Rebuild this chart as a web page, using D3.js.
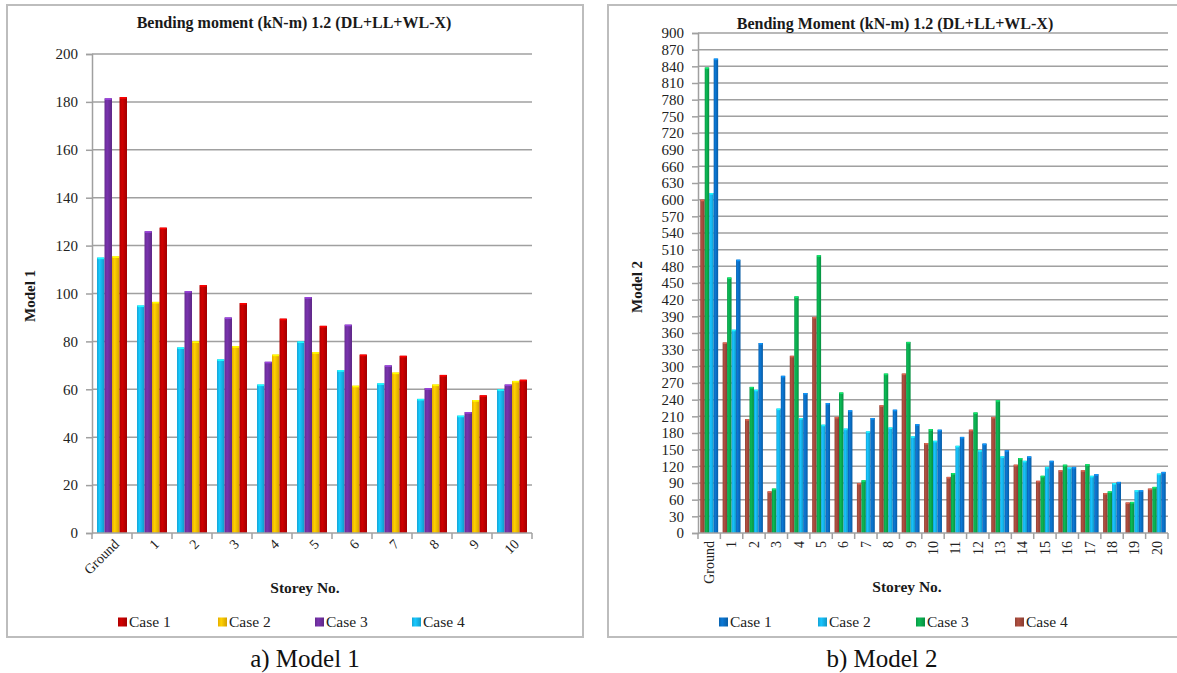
<!DOCTYPE html>
<html><head><meta charset="utf-8">
<script src="https://cdn.jsdelivr.net/npm/d3@7"></script>
<style>html,body{margin:0;padding:0;background:#fff;} svg{display:block;} svg text{font-family:"Liberation Serif","Times New Roman",serif;}</style>
</head><body>
<svg id="chart" width="1177" height="673" font-family="Liberation Serif, Times New Roman, serif"></svg>
<script>
// ---------- DATA ----------
const storeys1 = ["Ground","1","2","3","4","5","6","7","8","9","10"];
const m1Case1 = [182, 127.5, 103.5, 96, 89.5, 86.5, 74.5, 74, 66, 57.5, 64];
const m1Case2 = [115.5, 96.5, 80, 78, 74.5, 75.5, 61.5, 67, 62, 55.5, 63.5];
const m1Case3 = [181.5, 126, 101, 90, 71.5, 98.5, 87, 70, 60.5, 50.5, 62];
const m1Case4 = [115, 95, 77.5, 72.5, 62, 80, 68, 62.5, 56, 49, 60];
const m1Ticks = [0,20,40,60,80,100,120,140,160,180,200];

const storeys2 = ["Ground","1","2","3","4","5","6","7","8","9","10","11","12","13","14","15","16","17","18","19","20"];
const m2Case1 = [854, 492, 342, 283, 252, 234, 221, 207, 222, 196, 186, 173, 161, 149, 138, 130, 119, 106, 92, 77, 110];
const m2Case2 = [612, 366, 258, 224, 207, 195, 188, 183, 190, 174, 166, 157, 149, 138, 130, 119, 118, 103, 90, 77, 107];
const m2Case3 = [838, 460, 263, 80, 426, 500, 253, 95, 287, 344, 187, 108, 217, 239, 135, 103, 123, 124, 75, 56, 83];
const m2Case4 = [600, 343, 205, 75, 319, 389, 209, 90, 230, 287, 162, 101, 186, 209, 123, 94, 113, 113, 72, 55, 80];
const m2Ticks = d3.range(0, 901, 30);

const caseNames = ["Case 1","Case 2","Case 3","Case 4"];

// ---------- DRAW ----------
const FONT = "Liberation Serif, Times New Roman, serif";
const svg = d3.select("#chart");
const defs = svg.append("defs");
function grad(id, base){
  const c = d3.color(base);
  const g = defs.append("linearGradient").attr("id", id).attr("x1","0%").attr("x2","100%");
  g.append("stop").attr("offset","0%").attr("stop-color", c.darker(0.3));
  g.append("stop").attr("offset","35%").attr("stop-color", c.brighter(0.25));
  g.append("stop").attr("offset","100%").attr("stop-color", c.darker(0.5));
  return "url(#"+id+")";
}

function panel(o){
  const g = svg.append("g").attr("font-family", FONT);
  g.append("rect").attr("x", o.box[0]).attr("y", o.box[1]).attr("width", o.box[2]).attr("height", o.box[3])
    .attr("fill","#fff").attr("stroke","#bdbdbd").attr("stroke-width",2);
  const x = d3.scaleBand().domain(o.cats).range([o.left, o.right]).paddingInner(o.pad).paddingOuter(o.pad/2);
  const y = d3.scaleLinear().domain([0, o.ymax]).range([o.bottom, o.top]);
  // grid
  g.append("g").selectAll("line").data(o.ticks.filter(t=>t>0)).join("line")
    .attr("x1", o.left).attr("x2", o.right).attr("y1", d=>y(d)).attr("y2", d=>y(d))
    .attr("stroke","#a0a0a0").attr("stroke-width",1.5);
  // y axis
  const ya = g.append("g").attr("transform","translate("+o.left+",0)")
    .call(d3.axisLeft(y).tickValues(o.ticks).tickSize(6).tickPadding(8).tickFormat(d3.format("d")));
  ya.attr("font-family", FONT);
  ya.select(".domain").attr("stroke","#a0a0a0").attr("stroke-width",1.5);
  ya.selectAll(".tick line").attr("stroke","#a0a0a0").attr("stroke-width",1.5);
  ya.selectAll("text").attr("font-size", o.tickFont).attr("fill","#222").attr("font-family", FONT);
  // bars
  const inner = d3.scaleBand().domain(o.order).range([0, x.bandwidth()]);
  o.order.forEach((k)=>{
    const vals = o.series[k];
    g.append("g").selectAll("rect").data(vals).join("rect")
      .attr("x", (d,i)=>x(o.cats[i]) + inner(k))
      .attr("width", inner.bandwidth())
      .attr("y", d=>y(d)).attr("height", d=>y(0)-y(d))
      .attr("fill", o.fills[k]);
    g.append("g").selectAll("rect").data(vals).join("rect")
      .attr("x", (d,i)=>x(o.cats[i]) + inner(k)+0.5)
      .attr("width", Math.max(inner.bandwidth()-1,1))
      .attr("y", d=>y(d)).attr("height", 1.6)
      .attr("fill", d3.color(o.colors[k]).brighter(0.9));
  });
  // x axis line + boundary ticks
  g.append("line").attr("x1", o.left).attr("x2", o.right).attr("y1", y(0)).attr("y2", y(0))
    .attr("stroke","#a0a0a0").attr("stroke-width",1.5);
  const bounds = o.cats.map(c=>x(c) - x.step()*o.pad/2).concat([o.right]);
  g.append("g").selectAll("line").data(bounds).join("line")
    .attr("x1", d=>d).attr("x2", d=>d).attr("y1", y(0)).attr("y2", y(0)+6)
    .attr("stroke","#a0a0a0").attr("stroke-width",1.5);
  // x labels
  g.append("g").selectAll("text").data(o.cats).join("text")
    .attr("transform", d=>"translate("+(x(d)+x.bandwidth()/2+o.lblDx)+","+(y(0)+o.lblDy)+") rotate("+o.rot+")")
    .attr("text-anchor","end").attr("dy", o.rot===-90 ? "0.35em" : "0.3em")
    .attr("font-family", FONT).attr("font-size", o.xFont).attr("fill","#222").text(d=>d);
  // titles
  g.append("text").attr("x", o.titleX).attr("y", o.titleY).attr("text-anchor","middle")
    .attr("font-family", FONT).attr("font-weight","bold").attr("font-size",16).attr("fill","#1a1a1a").text(o.title);
  g.append("text").attr("transform","translate("+o.yTitleX+","+o.yTitleY+") rotate(-90)")
    .attr("text-anchor","middle").attr("font-family", FONT).attr("font-weight","bold").attr("font-size",15).attr("fill","#1a1a1a").text(o.yTitle);
  g.append("text").attr("x", o.xTitleX).attr("y", o.xTitleY).attr("text-anchor","middle")
    .attr("font-family", FONT).attr("font-weight","bold").attr("font-size",15.5).attr("fill","#1a1a1a").text("Storey No.");
  // legend
  caseNames.forEach((nm,i)=>{
    const lx = o.legX[i];
    g.append("rect").attr("x", lx).attr("y", o.legY-4.5).attr("width",9).attr("height",9).attr("fill", o.fills[nm]);
    g.append("text").attr("x", lx+11).attr("y", o.legY).attr("dy","0.35em")
      .attr("font-family", FONT).attr("font-size",15.5).attr("fill","#222").text(nm);
  });
  // caption
  svg.append("text").attr("x", o.capX).attr("y", 667).attr("text-anchor","middle")
    .attr("font-family", FONT).attr("font-size",25).attr("fill","#111").text(o.caption);
}

const col1 = {"Case 1":"#c00000","Case 2":"#ffc000","Case 3":"#7030a0","Case 4":"#16b8ee"};
const col2 = {"Case 1":"#0a6ec4","Case 2":"#16b4ec","Case 3":"#0aaa4e","Case 4":"#a2493b"};
const fill1 = {}, fill2 = {};
caseNames.forEach((k,i)=>{ fill1[k]=grad("g1"+i, col1[k]); fill2[k]=grad("g2"+i, col2[k]); });

panel({
  box:[7,5,576,632], left:92, right:532, top:54, bottom:533, ymax:200, ticks:m1Ticks,
  cats:storeys1, pad:0.25, order:["Case 4","Case 3","Case 2","Case 1"],
  series:{"Case 1":m1Case1,"Case 2":m1Case2,"Case 3":m1Case3,"Case 4":m1Case4},
  colors:col1, fills:fill1, tickFont:15, xFont:14, rot:-45, lblDx:5, lblDy:9,
  title:"Bending moment (kN-m) 1.2 (DL+LL+WL-X)", titleX:294, titleY:28,
  yTitle:"Model 1", yTitleX:35, yTitleY:296, xTitleX:305, xTitleY:593,
  legX:[118,218,315,412], legY:622, caption:"a) Model 1", capX:305
});

panel({
  box:[608,5,580,632], left:698, right:1168, top:33, bottom:533, ymax:900, ticks:m2Ticks,
  cats:storeys2, pad:0.2, order:["Case 4","Case 3","Case 2","Case 1"],
  series:{"Case 1":m2Case1,"Case 2":m2Case2,"Case 3":m2Case3,"Case 4":m2Case4},
  colors:col2, fills:fill2, tickFont:15, xFont:14, rot:-90, lblDx:0, lblDy:8,
  title:"Bending Moment (kN-m) 1.2 (DL+LL+WL-X)", titleX:895, titleY:29,
  yTitle:"Model 2", yTitleX:642, yTitleY:287, xTitleX:907, xTitleY:592,
  legX:[719,818,916,1015], legY:622, caption:"b) Model 2", capX:882
});
</script>
</body></html>
